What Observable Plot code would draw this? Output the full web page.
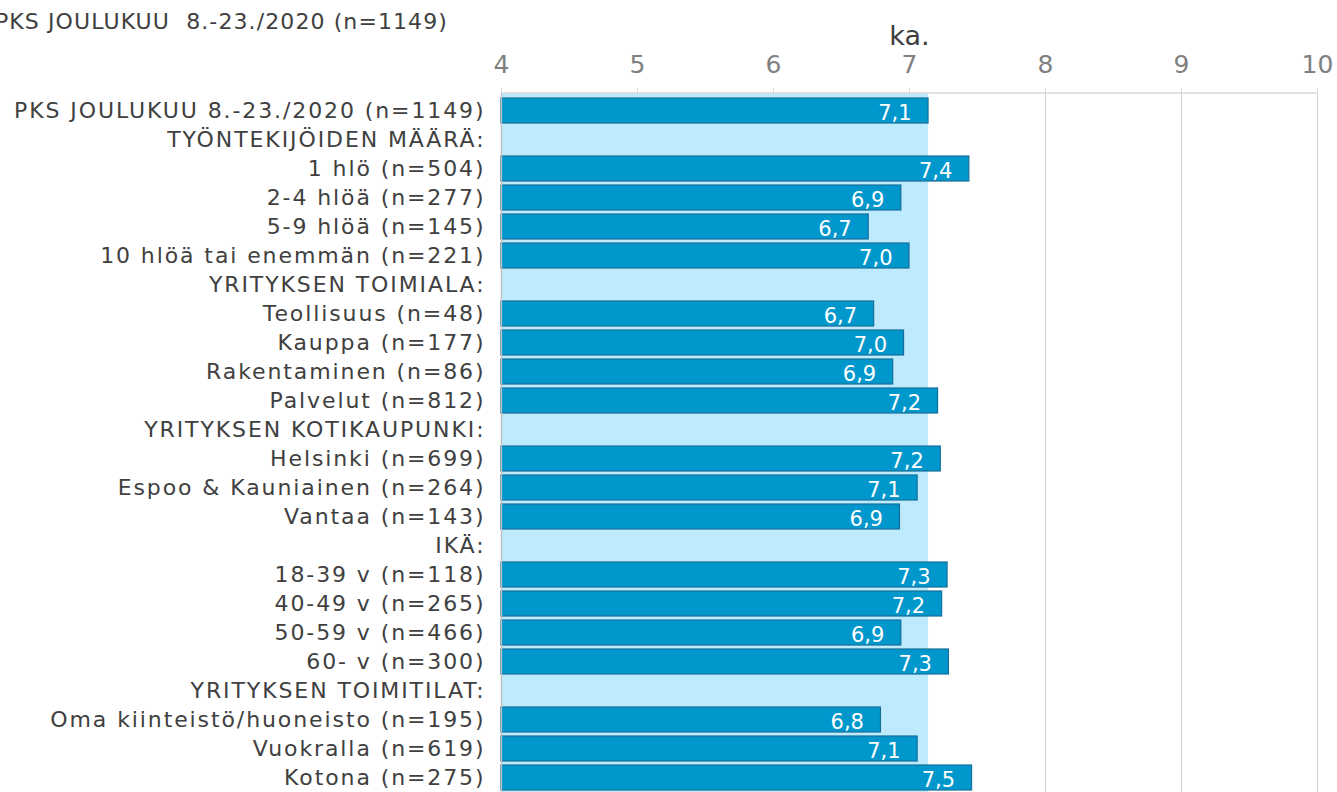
<!DOCTYPE html>
<html>
<head>
<meta charset="utf-8">
<script src="https://cdn.jsdelivr.net/npm/d3@7"></script>
<script src="https://cdn.jsdelivr.net/npm/@observablehq/plot@0.6"></script>
<style>
  html, body { margin: 0; padding: 0; background: #fff; overflow: hidden; }
  #wrap { position: relative; width: 1337px; height: 792px; font-family: "DejaVu Sans", Verdana, sans-serif; }
  #title { position: absolute; right: 889px; top: 9px; font-size: 22px; letter-spacing: 1.1px; color: #404040; white-space: pre; }
  #chart { position: absolute; left: 0; top: 0; }
  #chart svg g[aria-label="y-axis tick label"] text { letter-spacing: 1.9px; }
</style>
</head>
<body>
<div id="wrap">
  <div id="chart"></div>
  <div id="title">PKS JOULUKUU  8.-23./2020 (n=1149)</div>
</div>
<script>
const categories = [
  "PKS JOULUKUU 8.-23./2020 (n=1149)",
  "TYÖNTEKIJÖIDEN MÄÄRÄ:",
  "1 hlö (n=504)",
  "2-4 hlöä (n=277)",
  "5-9 hlöä (n=145)",
  "10 hlöä tai enemmän (n=221)",
  "YRITYKSEN TOIMIALA:",
  "Teollisuus (n=48)",
  "Kauppa (n=177)",
  "Rakentaminen (n=86)",
  "Palvelut (n=812)",
  "YRITYKSEN KOTIKAUPUNKI:",
  "Helsinki (n=699)",
  "Espoo & Kauniainen (n=264)",
  "Vantaa (n=143)",
  "IKÄ:",
  "18-39 v (n=118)",
  "40-49 v (n=265)",
  "50-59 v (n=466)",
  "60- v (n=300)",
  "YRITYKSEN TOIMITILAT:",
  "Oma kiinteistö/huoneisto (n=195)",
  "Vuokralla (n=619)",
  "Kotona (n=275)"
];
const values = [
  7.14, null, 7.44, 6.94, 6.70, 7.00, null, 6.74, 6.96, 6.88, 7.21, null,
  7.23, 7.06, 6.93, null, 7.28, 7.24, 6.94, 7.29, null, 6.79, 7.06, 7.46
];
const xTicks = [4, 5, 6, 7, 8, 9, 10];
const xDomain = [4, 10];
const axisTitle = "ka.";
const totalValue = values[0];

const rows = categories.map((c, i) => ({cat: c, v: values[i], base: xDomain[0]}))
  .filter(d => d.v != null);
const band = [{x1: xDomain[0], x2: totalValue}];
const fmt = v => v.toFixed(1).replace(".", ",");

const chart = Plot.plot({
  width: 1337,
  height: 795,
  marginTop: 93,
  marginLeft: 501,
  marginRight: 20,
  marginBottom: 0,
  style: {fontFamily: "'DejaVu Sans', Verdana, sans-serif", background: "transparent"},
  x: {domain: xDomain, axis: null},
  y: {domain: categories, type: "band", padding: 0, axis: null},
  marks: [
    Plot.ruleX(xTicks, {stroke: "#d9d9d9", strokeWidth: 1.3}),
    Plot.rect(band, {x1: "x1", x2: "x2", fill: "#bdebfd"}),
    Plot.barX(rows, {x1: "base", x2: "v", y: "cat", fill: "#0097cd", stroke: "#176f98", strokeWidth: 1.2, insetTop: 2, insetBottom: 2}),
    Plot.text(rows, {x: "v", y: "cat", text: d => fmt(d.v), textAnchor: "end", dx: -17, dy: 2, fill: "white", fontSize: 21}),
    Plot.ruleX([xDomain[0]], {stroke: "#bfbfbf", strokeWidth: 1.3}),
    Plot.axisX(xTicks, {anchor: "top", tickSize: 6, tickPadding: 15, tickFormat: d => String(d), fontSize: 25, color: "#808080", stroke: "#d9d9d9", label: null}),
    Plot.axisY({anchor: "left", tickSize: 0, tickPadding: 16, fontSize: 22, color: "#404040", label: null}),
    Plot.text([axisTitle], {frameAnchor: "top", dy: -68, fontSize: 27, fill: "#404040"})
  ]
});
document.getElementById("chart").appendChild(chart);
// top axis baseline drawn through the plot's x scale
const xs = chart.scale("x");
d3.select(chart).append("line")
  .attr("x1", xs.apply(xDomain[0])).attr("x2", xs.apply(xDomain[1]))
  .attr("y1", 93).attr("y2", 93)
  .attr("stroke", "#d9d9d9").attr("stroke-width", 1.3);
</script>
</body>
</html>
